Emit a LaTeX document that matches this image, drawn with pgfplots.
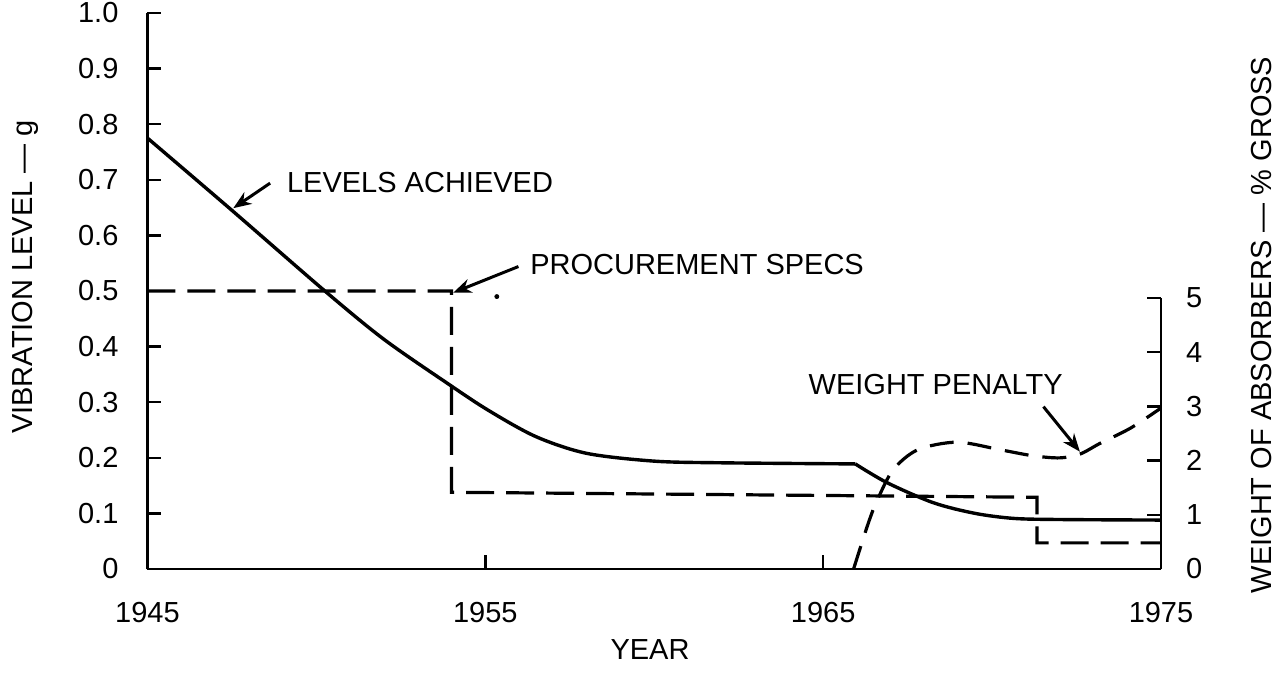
\documentclass[border=0pt]{standalone}
\usepackage{fontspec}
\setmainfont{Liberation Sans}
\usepackage{pgfplots}
\pgfplotsset{compat=1.18}
\usetikzlibrary{arrows.meta}
\newcommand\ff{\fontsize{14.5}{17}\selectfont}
\begin{document}
\begin{tikzpicture}
\path[use as bounding box] (-73.75pt,-53pt) rectangle (568.75pt,284.5pt);
\begin{axis}[
  at={(0pt,0pt)}, anchor=south west,
  scale only axis, width=506.75pt, height=278pt,
  xmin=1945, xmax=1975, ymin=0, ymax=1.0,
  axis x line*=bottom, axis y line*=left,
  axis line style={-, line width=1.4pt},
  tick align=inside, major tick length=7pt,
  tick style={line width=1.2pt, black},
  xtick={1945,1955,1965,1975},
  xticklabels={1945,1955,1965,1975},
  ytick={0,0.1,0.2,0.3,0.4,0.5,0.6,0.7,0.8,0.9,1.0},
  yticklabels={0,0.1,0.2,0.3,0.4,0.5,0.6,0.7,0.8,0.9,1.0},
  every tick label/.append style={font=\ff},
  xticklabel style={yshift=-13pt},
  yticklabel style={xshift=-11pt},
  clip=false,
]
% levels achieved
\addplot[black, line width=1.7pt, smooth, tension=0.5] coordinates {
(1945,0.775) (1947.5,0.645) (1950.25,0.500) (1952,0.413) (1953.9,0.333)
(1955.1,0.285) (1956.5,0.238) (1958,0.208) (1960,0.194) (1962,0.191) (1965.95,0.189)
};
\addplot[black, line width=1.7pt, smooth, tension=0.5] coordinates {
(1965.95,0.189) (1966.9,0.155) (1968.27,0.119) (1969.5,0.100)
(1970.64,0.091) (1972,0.089) (1975,0.088)
};
% procurement specs
\addplot[black, line width=1.6pt, dash pattern=on 14pt off 6pt] coordinates {
(1945,0.5) (1954,0.5) (1954,0.138) (1971.33,0.129) (1971.33,0.047) (1975,0.047)
};
\addplot[only marks, mark=*, mark size=1pt, black] coordinates {(1955.34,0.490)};
% annotations
\node[font=\ff, anchor=west, inner sep=0pt] at (axis cs:1949.12,0.696) {LEVELS ACHIEVED};
\draw[line width=1.5pt, -{Stealth[length=9pt,width=7pt]}] (axis cs:1948.63,0.694) -- (axis cs:1947.54,0.649);
\node[font=\ff, anchor=west, inner sep=0pt] at (axis cs:1956.32,0.547) {PROCUREMENT SPECS};
\draw[line width=1.5pt, -{Stealth[length=9pt,width=7pt]}] (axis cs:1955.98,0.544) -- (axis cs:1954.05,0.497);
\node[font=\ff, anchor=west, inner sep=0pt] at (axis cs:1964.56,0.331) {WEIGHT PENALTY};
\draw[line width=1.5pt, -{Stealth[length=9pt,width=7pt]}] (axis cs:1971.52,0.292) -- (axis cs:1972.6,0.211);
\end{axis}
\begin{axis}[
  at={(0pt,0pt)}, anchor=south west,
  scale only axis, width=506.75pt, height=278pt,
  xmin=1945, xmax=1975, ymin=0, ymax=10.258,
  axis x line=none, axis y line*=right,
  y axis line style={draw=none},
  tick align=inside, major tick length=7pt,
  tick style={line width=1.2pt, black},
  ytick={0,1,2,3,4,5},
  every tick label/.append style={font=\ff},
  yticklabel style={xshift=9pt},
  /pgf/number format/assume math mode=true,
  clip=false,
]
\draw[line width=1.4pt] (axis cs:1975,0) -- (axis cs:1975,5);
\addplot[black, line width=1.6pt, smooth, dash pattern=on 12pt off 7pt] coordinates {
(1965.9,0) (1966.2,0.59) (1966.4,0.96) (1966.6,1.27) (1967.07,1.83) (1967.8,2.2)
(1968.96,2.34) (1970.24,2.2) (1971.2,2.09) (1972.0,2.05)
(1972.6,2.12) (1973.2,2.32) (1974.1,2.6) (1975,2.97)
};
\end{axis}
\node[font=\ff, rotate=90] at (-61.25pt,146pt) {VIBRATION LEVEL --- g};
\node[font=\ff, rotate=90] at (557.25pt,122pt) {WEIGHT OF ABSORBERS --- \% GROSS};
\node[font=\ff] at (251.25pt,-40.5pt) {YEAR};
\end{tikzpicture}
\end{document}
